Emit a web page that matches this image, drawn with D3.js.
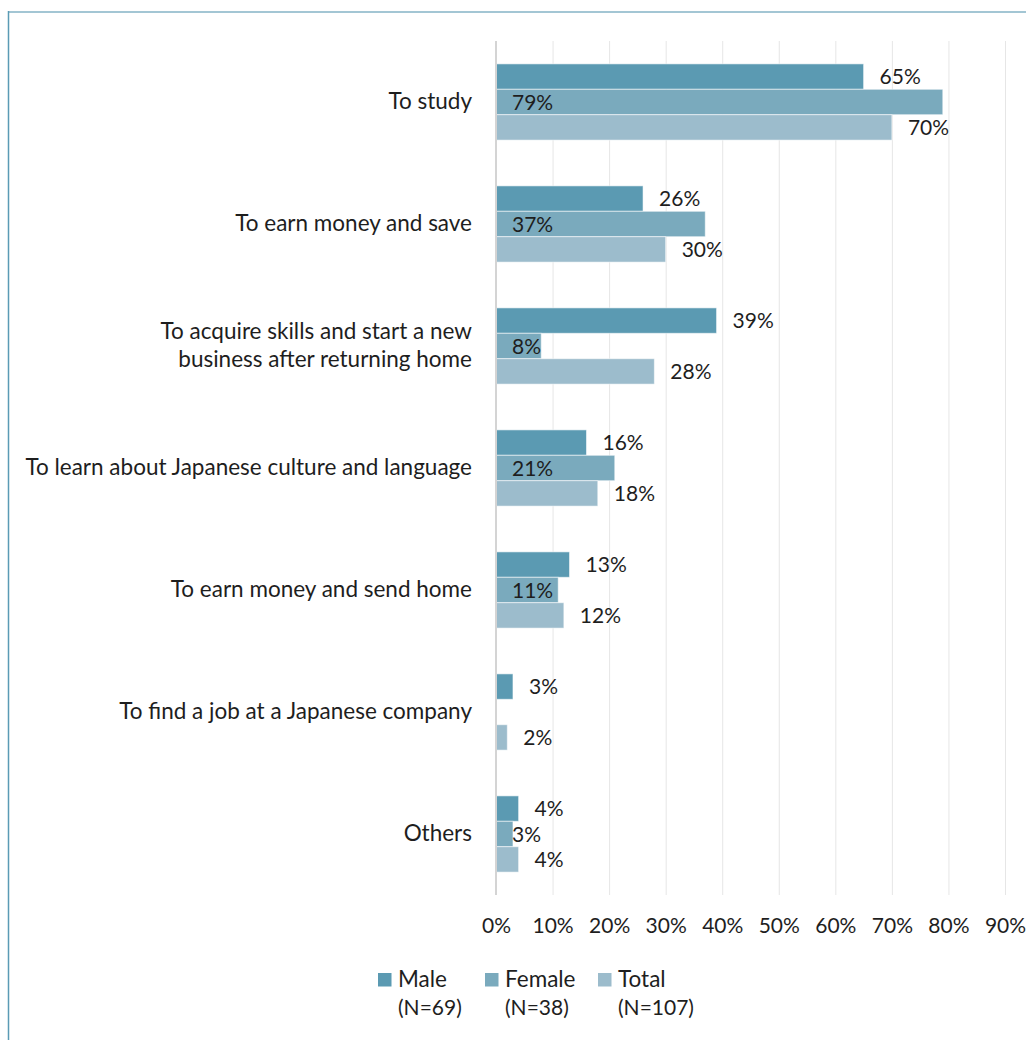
<!DOCTYPE html>
<html>
<head>
<meta charset="utf-8">
<script src="https://cdn.jsdelivr.net/npm/d3@7"></script>
<style>
  html, body { margin: 0; padding: 0; background: #fff; }
  svg { display: block; }
  text { font-family: Lato, "Open Sans", sans-serif; fill: #1e1e1e; }
</style>
</head>
<body>
<svg id="chart" width="1026" height="1040"></svg>
<script>
// Reasons for coming to Japan, by gender (share of respondents)
const categories = [
  ["To study"],
  ["To earn money and save"],
  ["To acquire skills and start a new", "business after returning home"],
  ["To learn about Japanese culture and language"],
  ["To earn money and send home"],
  ["To find a job at a Japanese company"],
  ["Others"]
];
const seriesNames = ["Male", "Female", "Total"];
const seriesCounts = ["(N=69)", "(N=38)", "(N=107)"];
const maleValues   = [65, 26, 39, 16, 13, 3, 4];
const femaleValues = [79, 37, 8, 21, 11, null, 3];
const totalValues  = [70, 30, 28, 18, 12, 2, 4];
const xTicks = [0, 10, 20, 30, 40, 50, 60, 70, 80, 90];

const colors = ["#5b9ab2", "#7aaabd", "#9cbccc"];
const seriesValues = [maleValues, femaleValues, totalValues];
const fontSize = 22.5;   // category and legend names
const numSize = 21;      // percentages and counts

const svg = d3.select("#chart");

// outer frame: light top rule, darker left rule
svg.append("line").attr("x1", 8).attr("x2", 1026).attr("y1", 12).attr("y2", 12)
  .attr("stroke", "#a3c6d4").attr("stroke-width", 2);
svg.append("line").attr("x1", 8.5).attr("x2", 8.5).attr("y1", 11).attr("y2", 1040)
  .attr("stroke", "#5a9bb5").attr("stroke-width", 1.5);

const x = d3.scaleLinear().domain([0, 90]).range([496, 1005]);
const y = d3.scaleBand()
  .domain(d3.range(categories.length))
  .range([41, 895])
  .paddingInner(0.375)
  .paddingOuter(0.1875);
const ySub = d3.scaleBand().domain(d3.range(seriesNames.length)).range([0, y.bandwidth()]);

// vertical gridlines
svg.append("g").selectAll("line")
  .data(xTicks.slice(1))
  .join("line")
  .attr("x1", d => x(d) + 0.5).attr("x2", d => x(d) + 0.5)
  .attr("y1", 41).attr("y2", 895)
  .attr("stroke", "#e6e6e6").attr("stroke-width", 1);

// x tick labels
const xAxis = d3.axisBottom(x).tickValues(xTicks).tickFormat(d => d + "%").tickSize(0).tickPadding(0);
const gx = svg.append("g").attr("transform", "translate(0,918)").call(xAxis);
gx.select(".domain").remove();
gx.selectAll("text").attr("font-size", numSize).attr("dy", "0.72em")
  .style("font-family", "Lato, 'Open Sans', sans-serif").attr("fill", "#1e1e1e");

// bars
const groups = svg.append("g").selectAll("g")
  .data(categories.map((c, i) => i))
  .join("g")
  .attr("transform", i => `translate(0,${y(i)})`);

groups.each(function(ci) {
  const g = d3.select(this);
  const rows = seriesValues.map((vals, si) => ({ si, v: vals[ci] })).filter(d => d.v != null);
  g.selectAll("rect")
    .data(rows)
    .join("rect")
    .attr("x", x(0))
    .attr("y", d => ySub(d.si))
    .attr("width", d => x(d.v) - x(0))
    .attr("height", ySub.bandwidth())
    .attr("fill", d => colors[d.si])
    .attr("stroke", "rgba(255,255,255,0.55)")
    .attr("stroke-width", 1);
  g.selectAll("text")
    .data(rows)
    .join("text")
    .attr("x", d => d.si === 1 ? x(0) + 16 : x(d.v) + 16)
    .attr("y", d => ySub(d.si) + ySub.bandwidth() / 2)
    .attr("dy", "0.36em")
    .attr("font-size", numSize)
    .text(d => d.v + "%");
});

// category axis line
svg.append("line").attr("x1", x(0)).attr("x2", x(0)).attr("y1", 41).attr("y2", 895)
  .attr("stroke", "#d4d4d4").attr("stroke-width", 2);

// category labels
const lineH = 28.5;
svg.append("g").selectAll("text")
  .data(categories.map((c, i) => ({ c, i })))
  .join("text")
  .attr("text-anchor", "end")
  .attr("font-size", fontSize)
  .attr("transform", d => `translate(472,${y(d.i) + y.bandwidth() / 2})`)
  .each(function(d) {
    const t = d3.select(this);
    const n = d.c.length;
    d.c.forEach((line, k) => {
      t.append("tspan").attr("x", 0)
        .attr("y", (k - (n - 1) / 2) * lineH)
        .attr("dy", "0.32em")
        .text(line);
    });
  });

// legend
const legendX = [378, 485, 598];
const legend = svg.append("g").selectAll("g")
  .data(seriesNames.map((s, i) => i))
  .join("g")
  .attr("transform", i => `translate(${legendX[i]},973)`);
legend.append("rect").attr("width", 13.5).attr("height", 13.5).attr("fill", i => colors[i]);
legend.append("text").attr("x", 20).attr("y", 14).attr("font-size", fontSize).text(i => seriesNames[i]);
legend.append("text").attr("x", 20).attr("y", 42).attr("font-size", numSize).text(i => seriesCounts[i]);
</script>
</body>
</html>
